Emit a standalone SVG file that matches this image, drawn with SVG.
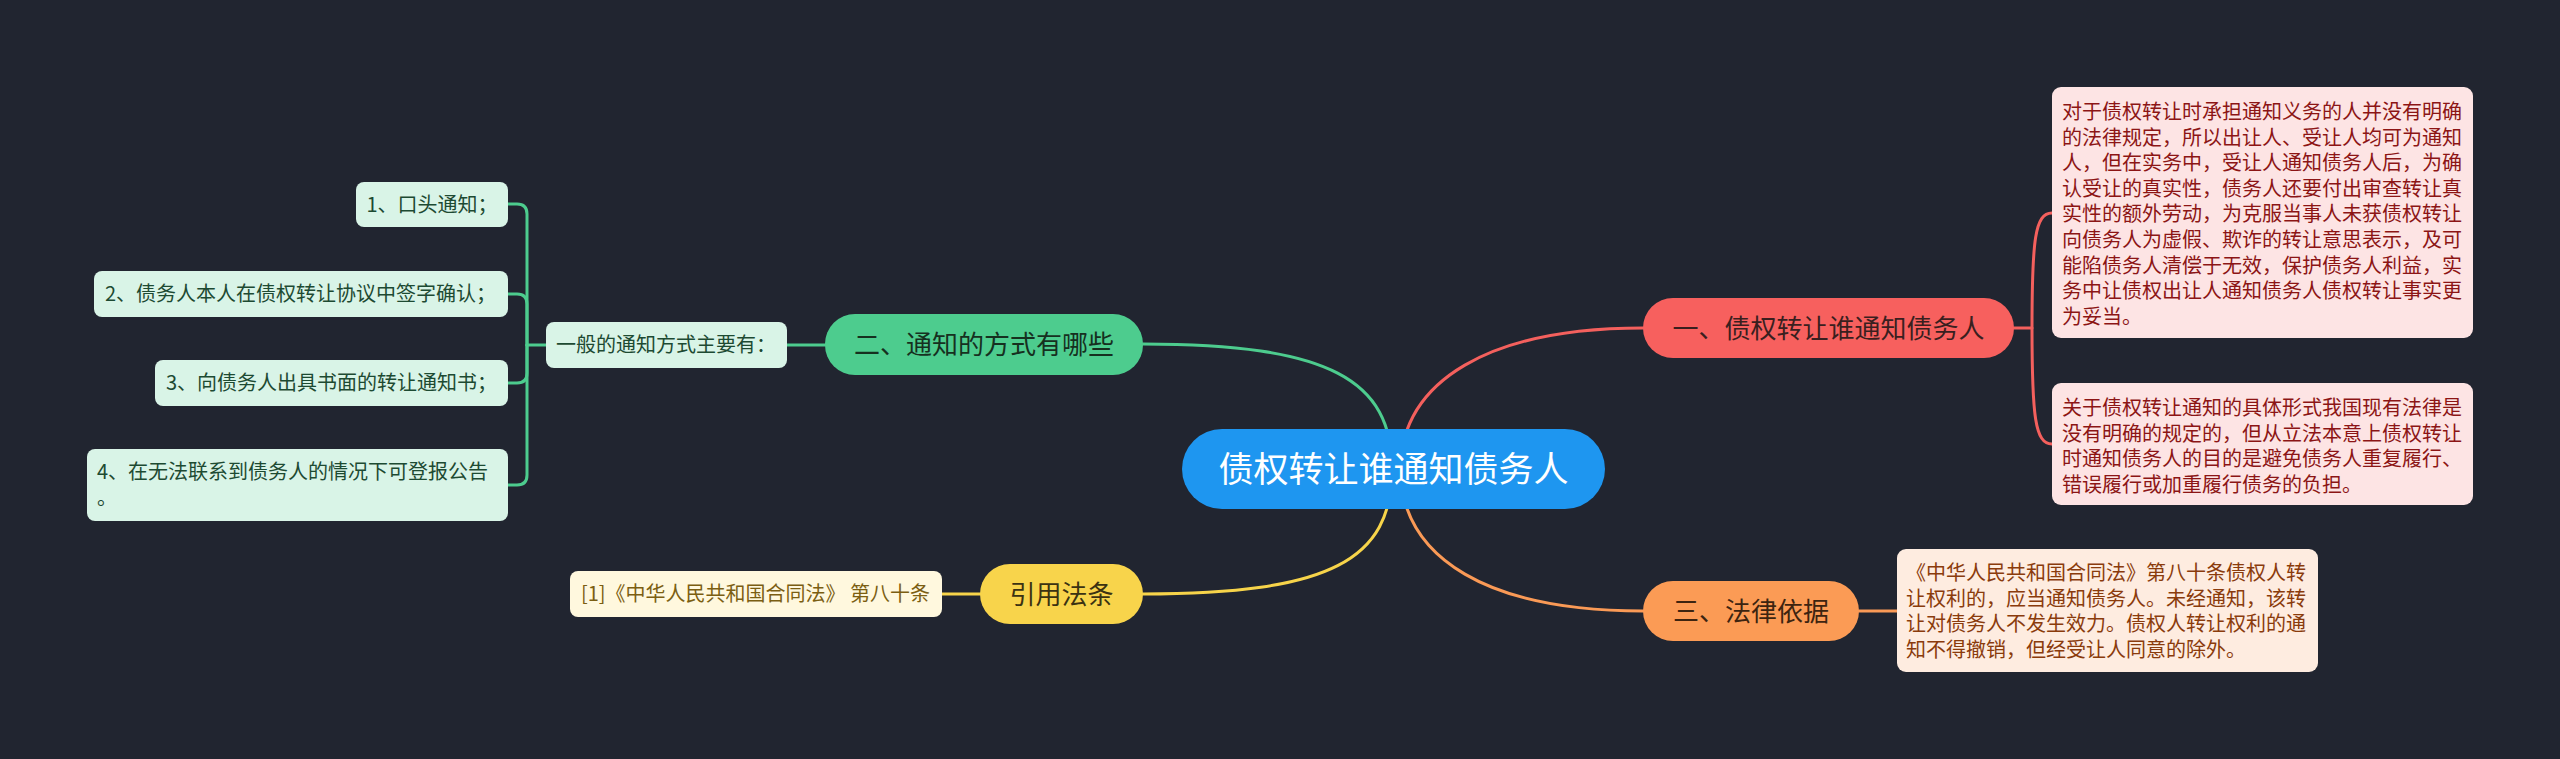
<svg xmlns="http://www.w3.org/2000/svg" width="2560" height="759" viewBox="0 0 2560 759">
<style>
text{font-family:"Noto Sans CJK SC","Noto Sans",sans-serif}
.c{fill:none;stroke-width:3;stroke-linecap:round}
.red{stroke:#f4605d}.grn{stroke:#4dcc8e}.org{stroke:#fa9a56}.yel{stroke:#f7d44a}
.bt{font-size:26px;text-anchor:middle}
.lt{font-size:20px}
</style>
<rect x="0" y="0" width="2560" height="759" fill="#212530"/>
<g id="connectors">
<path class="c grn" d="M1392,469 C1392,380 1330,344 1143,344"/>
<path class="c red" d="M1400,469 C1402,380 1490,328 1643,328"/>
<path class="c yel" d="M1392,469 C1392,560 1330,594 1143,594"/>
<path class="c org" d="M1400,469 C1402,560 1490,611 1643,611"/>
<path class="c red" d="M2014,328 H2032"/>
<path class="c red" d="M2052,213 C2035,213 2032,240 2032,328 C2032,416 2035,444 2052,444"/>
<path class="c org" d="M1859,611 H1897"/>
<path class="c grn" d="M825,345 H787"/>
<path class="c grn" d="M546,345 H527"/>
<path class="c grn" d="M527,345 V214 Q527,204 517,204 H508"/>
<path class="c grn" d="M527,345 V304 Q527,294 517,294 H508"/>
<path class="c grn" d="M527,345 V373 Q527,383 517,383 H508"/>
<path class="c grn" d="M527,345 V475 Q527,485 517,485 H508"/>
<path class="c yel" d="M980,594 H942"/>
</g>
<g id="root">
<rect x="1182" y="429" width="423" height="80" rx="40" fill="#1e96f0"/>
<text x="1393.5" y="482" font-size="35" text-anchor="middle" fill="#ffffff">债权转让谁通知债务人</text>
</g>
<g id="branch1">
<rect x="1643" y="298" width="371" height="60" rx="30" fill="#f7605e"/>
<text class="bt" x="1828.5" y="338" fill="#3a1f1f">一、债权转让谁通知债务人</text>
</g>
<g id="leaf1a">
<rect x="2052" y="87" width="421" height="251" rx="9" fill="#fde4e4"/>
<text class="lt" fill="#8c1515"><tspan x="2062" y="119">对于债权转让时承担通知义务的人并没有明确</tspan><tspan x="2062" dy="25.6">的法律规定，所以出让人、受让人均可为通知</tspan><tspan x="2062" dy="25.6">人，但在实务中，受让人通知债务人后，为确</tspan><tspan x="2062" dy="25.6">认受让的真实性，债务人还要付出审查转让真</tspan><tspan x="2062" dy="25.6">实性的额外劳动，为克服当事人未获债权转让</tspan><tspan x="2062" dy="25.6">向债务人为虚假、欺诈的转让意思表示，及可</tspan><tspan x="2062" dy="25.6">能陷债务人清偿于无效，保护债务人利益，实</tspan><tspan x="2062" dy="25.6">务中让债权出让人通知债务人债权转让事实更</tspan><tspan x="2062" dy="25.6">为妥当。</tspan></text>
</g>
<g id="leaf1b">
<rect x="2052" y="383" width="421" height="122" rx="9" fill="#fde4e4"/>
<text class="lt" fill="#8c1515"><tspan x="2062" y="415">关于债权转让通知的具体形式我国现有法律是</tspan><tspan x="2062" dy="25.6">没有明确的规定的，但从立法本意上债权转让</tspan><tspan x="2062" dy="25.6">时通知债务人的目的是避免债务人重复履行、</tspan><tspan x="2062" dy="25.6">错误履行或加重履行债务的负担。</tspan></text>
</g>
<g id="branch3">
<rect x="1643" y="581" width="216" height="60" rx="30" fill="#fb9b55"/>
<text class="bt" x="1751" y="621" fill="#3d2410">三、法律依据</text>
</g>
<g id="leaf3">
<rect x="1897" y="549" width="421" height="123" rx="9" fill="#feece0"/>
<text class="lt" fill="#8a3b0c"><tspan x="1906" y="580">《中华人民共和国合同法》第八十条债权人转</tspan><tspan x="1906" dy="25.6">让权利的，应当通知债务人。未经通知，该转</tspan><tspan x="1906" dy="25.6">让对债务人不发生效力。债权人转让权利的通</tspan><tspan x="1906" dy="25.6">知不得撤销，但经受让人同意的除外。</tspan></text>
</g>
<g id="branch2">
<rect x="825" y="314" width="318" height="61" rx="30" fill="#4dcc8e"/>
<text class="bt" x="984" y="354" fill="#16301f">二、通知的方式有哪些</text>
</g>
<g id="sub2">
<rect x="546" y="322" width="241" height="46" rx="8" fill="#d9f4e7"/>
<text class="lt" x="556" y="352" fill="#1d4a32">一般的通知方式主要有：</text>
</g>
<g id="leaf2a">
<rect x="356" y="182" width="152" height="45" rx="8" fill="#d9f4e7"/>
<text class="lt" x="366.5" y="211.5" fill="#1d4a32">1、口头通知；</text>
</g>
<g id="leaf2b">
<rect x="94" y="271" width="414" height="46" rx="8" fill="#d9f4e7"/>
<text class="lt" x="105" y="301" fill="#1d4a32">2、债务人本人在债权转让协议中签字确认；</text>
</g>
<g id="leaf2c">
<rect x="155" y="360" width="353" height="46" rx="8" fill="#d9f4e7"/>
<text class="lt" x="166" y="390" fill="#1d4a32">3、向债务人出具书面的转让通知书；</text>
</g>
<g id="leaf2d">
<rect x="87" y="449" width="421" height="72" rx="8" fill="#d9f4e7"/>
<text class="lt" fill="#1d4a32"><tspan x="97" y="479">4、在无法联系到债务人的情况下可登报公告</tspan><tspan x="97" dy="25.6">。</tspan></text>
</g>
<g id="branch4">
<rect x="980" y="564" width="163" height="60" rx="30" fill="#f8d44b"/>
<text class="bt" x="1061.5" y="604" fill="#3b3212">引用法条</text>
</g>
<g id="leaf4">
<rect x="570" y="571" width="372" height="46" rx="8" fill="#fff8de"/>
<text class="lt" x="581" y="601" fill="#7b5e12">[1]《中华人民共和国合同法》 第八十条</text>
</g>
</svg>
